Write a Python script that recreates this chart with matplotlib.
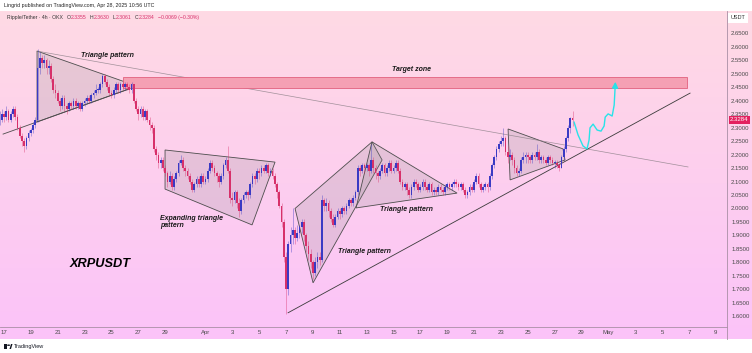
import matplotlib
matplotlib.use("Agg")
import matplotlib.pyplot as plt
import numpy as np
from matplotlib.patches import Polygon, Rectangle, Circle

# ---------------- data (4h candles, XRP/USDT, Mar 16 16:00 -> Apr 28 08:00 UTC) -------------
first_open = 2.32
closes = [
    2.33, 2.35,                                  # Mar 16 (16h, 20h)
    2.34, 2.36, 2.33, 2.35, 2.37, 2.34,          # Mar 17
    2.30, 2.27, 2.25, 2.23, 2.26, 2.28,          # Mar 18
    2.29, 2.31, 2.33, 2.52, 2.56, 2.54,          # Mar 19
    2.55, 2.52, 2.53, 2.48, 2.44, 2.43,          # Mar 20
    2.40, 2.38, 2.41, 2.38, 2.37, 2.39,          # Mar 21
    2.38, 2.40, 2.38, 2.39, 2.37, 2.39,          # Mar 22
    2.40, 2.41, 2.40, 2.42, 2.43, 2.44,          # Mar 23
    2.44, 2.46, 2.49, 2.47, 2.45, 2.43,          # Mar 24
    2.42, 2.44, 2.46, 2.44, 2.46, 2.45,          # Mar 25
    2.46, 2.45, 2.44, 2.46, 2.40, 2.37,          # Mar 26
    2.35, 2.37, 2.34, 2.36, 2.33, 2.31,          # Mar 27
    2.30, 2.22, 2.20, 2.17, 2.18, 2.15,          # Mar 28
    2.13, 2.10, 2.12, 2.08, 2.11, 2.13,          # Mar 29
    2.17, 2.18, 2.15, 2.14, 2.12, 2.10,          # Mar 30
    2.07, 2.09, 2.11, 2.09, 2.12, 2.10,          # Mar 31
    2.11, 2.14, 2.17, 2.15, 2.13, 2.12,          # Apr 1
    2.10, 2.12, 2.16, 2.18, 2.14, 2.04,          # Apr 2
    2.03, 2.06, 2.02, 1.99, 2.03, 2.05,          # Apr 3
    2.06, 2.05, 2.09, 2.12, 2.11, 2.14,          # Apr 4
    2.13, 2.15, 2.14, 2.16, 2.13, 2.14,          # Apr 5
    2.12, 2.09, 2.06, 2.01, 1.95, 1.82,          # Apr 6
    1.70, 1.87, 1.90, 1.92, 1.89, 1.91,          # Apr 7
    1.93, 1.95, 1.90, 1.86, 1.83, 1.80,          # Apr 8
    1.76, 1.80, 1.82, 1.81, 2.03, 2.01,          # Apr 9
    2.02, 1.99, 1.96, 1.94, 1.97, 1.99,          # Apr 10
    1.98, 2.00, 1.99, 2.01, 2.03, 2.02,          # Apr 11
    2.04, 2.06, 2.15, 2.14, 2.16, 2.15,          # Apr 12
    2.16, 2.14, 2.18, 2.15, 2.13, 2.12,          # Apr 13
    2.14, 2.16, 2.13, 2.15, 2.17, 2.14,          # Apr 14
    2.15, 2.17, 2.14, 2.10, 2.08, 2.09,          # Apr 15
    2.07, 2.05, 2.08, 2.10, 2.09, 2.07,          # Apr 16
    2.08, 2.10, 2.08, 2.07, 2.09, 2.06,          # Apr 17
    2.07, 2.06, 2.08, 2.07, 2.06, 2.08,          # Apr 18
    2.09, 2.08, 2.09, 2.10, 2.09, 2.08,          # Apr 19
    2.09, 2.07, 2.05, 2.06, 2.08, 2.07,          # Apr 20
    2.10, 2.12, 2.09, 2.07, 2.08, 2.09,          # Apr 21
    2.08, 2.12, 2.16, 2.19, 2.22, 2.24,          # Apr 22
    2.25, 2.26, 2.21, 2.19, 2.20, 2.18,          # Apr 23
    2.15, 2.13, 2.14, 2.18, 2.19, 2.20,          # Apr 24
    2.19, 2.18, 2.20, 2.19, 2.21, 2.18,          # Apr 25
    2.19, 2.18, 2.17, 2.19, 2.18, 2.17,          # Apr 26
    2.17, 2.16, 2.15, 2.19, 2.22, 2.26,          # Apr 27
    2.30, 2.3355, 2.3284,                        # Apr 28
]
highs = [
    2.36, 2.37,
    2.36, 2.38, 2.37, 2.36, 2.38, 2.38,
    2.35, 2.31, 2.28, 2.26, 2.27, 2.29,
    2.30, 2.32, 2.34, 2.59, 2.58, 2.57,
    2.57, 2.56, 2.55, 2.54, 2.49, 2.46,
    2.44, 2.41, 2.42, 2.42, 2.39, 2.40,
    2.40, 2.41, 2.41, 2.40, 2.40, 2.40,
    2.41, 2.42, 2.42, 2.43, 2.44, 2.46,
    2.45, 2.47, 2.50, 2.50, 2.48, 2.46,
    2.44, 2.45, 2.47, 2.47, 2.47, 2.47,
    2.47, 2.47, 2.46, 2.47, 2.46, 2.41,
    2.38, 2.38, 2.38, 2.37, 2.37, 2.34,
    2.32, 2.31, 2.23, 2.21, 2.19, 2.19,
    2.16, 2.14, 2.14, 2.13, 2.12, 2.14,
    2.18, 2.20, 2.19, 2.16, 2.15, 2.13,
    2.11, 2.10, 2.12, 2.12, 2.13, 2.13,
    2.12, 2.15, 2.18, 2.18, 2.16, 2.14,
    2.13, 2.13, 2.17, 2.19, 2.23, 2.15,
    2.06, 2.07, 2.07, 2.04, 2.04, 2.06,
    2.07, 2.07, 2.10, 2.13, 2.13, 2.15,
    2.15, 2.16, 2.16, 2.17, 2.17, 2.15,
    2.15, 2.13, 2.10, 2.07, 2.02, 1.96,
    1.84, 1.88, 1.93, 2.00, 1.93, 1.94,
    1.94, 1.96, 1.96, 1.91, 1.88, 1.85,
    1.81, 1.82, 1.84, 1.84, 2.05, 2.04,
    2.04, 2.03, 2.00, 1.98, 1.98, 2.00,
    2.00, 2.01, 2.01, 2.02, 2.04, 2.04,
    2.05, 2.07, 2.16, 2.16, 2.17, 2.17,
    2.17, 2.17, 2.24, 2.19, 2.16, 2.14,
    2.15, 2.17, 2.17, 2.16, 2.18, 2.18,
    2.16, 2.18, 2.18, 2.15, 2.11, 2.10,
    2.10, 2.08, 2.09, 2.11, 2.11, 2.10,
    2.09, 2.11, 2.11, 2.09, 2.10, 2.10,
    2.08, 2.08, 2.09, 2.09, 2.08, 2.09,
    2.10, 2.10, 2.10, 2.11, 2.11, 2.10,
    2.10, 2.10, 2.08, 2.07, 2.09, 2.09,
    2.11, 2.13, 2.13, 2.10, 2.09, 2.10,
    2.10, 2.13, 2.17, 2.20, 2.23, 2.25,
    2.27, 2.30, 2.27, 2.23, 2.22, 2.21,
    2.19, 2.16, 2.15, 2.19, 2.21, 2.21,
    2.21, 2.20, 2.21, 2.21, 2.24, 2.22,
    2.20, 2.20, 2.19, 2.20, 2.20, 2.19,
    2.18, 2.18, 2.17, 2.20, 2.23, 2.27,
    2.31, 2.34, 2.363,
]
lows = [
    2.31, 2.32,
    2.32, 2.33, 2.32, 2.32, 2.34, 2.33,
    2.29, 2.26, 2.23, 2.21, 2.22, 2.25,
    2.27, 2.28, 2.30, 2.32, 2.50, 2.52,
    2.52, 2.50, 2.50, 2.47, 2.43, 2.41,
    2.39, 2.36, 2.37, 2.36, 2.35, 2.36,
    2.37, 2.37, 2.37, 2.37, 2.36, 2.36,
    2.38, 2.39, 2.39, 2.39, 2.41, 2.42,
    2.43, 2.43, 2.45, 2.46, 2.44, 2.42,
    2.41, 2.41, 2.43, 2.43, 2.43, 2.44,
    2.44, 2.44, 2.43, 2.43, 2.39, 2.36,
    2.33, 2.34, 2.33, 2.33, 2.32, 2.29,
    2.28, 2.21, 2.18, 2.15, 2.15, 2.14,
    2.12, 2.08, 2.09, 2.07, 2.07, 2.10,
    2.12, 2.16, 2.14, 2.12, 2.11, 2.09,
    2.06, 2.06, 2.08, 2.08, 2.08, 2.09,
    2.09, 2.10, 2.13, 2.14, 2.12, 2.10,
    2.08, 2.09, 2.11, 2.15, 2.13, 2.02,
    2.01, 2.02, 2.00, 1.97, 1.98, 2.02,
    2.04, 2.03, 2.04, 2.08, 2.09, 2.10,
    2.11, 2.12, 2.13, 2.13, 2.12, 2.12,
    2.11, 2.08, 2.04, 2.00, 1.93, 1.80,
    1.61, 1.68, 1.84, 1.87, 1.87, 1.88,
    1.89, 1.91, 1.88, 1.84, 1.81, 1.78,
    1.74, 1.75, 1.78, 1.79, 1.80, 1.99,
    1.99, 1.97, 1.95, 1.93, 1.93, 1.96,
    1.96, 1.97, 1.98, 1.98, 2.00, 2.01,
    2.01, 2.03, 2.05, 2.12, 2.13, 2.13,
    2.14, 2.12, 2.13, 2.13, 2.11, 2.10,
    2.11, 2.13, 2.12, 2.12, 2.14, 2.13,
    2.13, 2.14, 2.13, 2.09, 2.07, 2.07,
    2.05, 2.04, 2.04, 2.07, 2.08, 2.06,
    2.06, 2.07, 2.07, 2.06, 2.06, 2.05,
    2.05, 2.05, 2.05, 2.06, 2.05, 2.05,
    2.07, 2.07, 2.07, 2.08, 2.08, 2.07,
    2.07, 2.06, 2.04, 2.04, 2.05, 2.06,
    2.06, 2.09, 2.08, 2.06, 2.06, 2.07,
    2.06, 2.07, 2.11, 2.15, 2.18, 2.21,
    2.23, 2.23, 2.20, 2.17, 2.18, 2.16,
    2.13, 2.12, 2.12, 2.13, 2.17, 2.17,
    2.17, 2.17, 2.17, 2.18, 2.18, 2.17,
    2.17, 2.17, 2.16, 2.16, 2.17, 2.16,
    2.15, 2.15, 2.14, 2.15, 2.18, 2.21,
    2.25, 2.28, 2.3061,
]
first_candle_day = -1.0 / 3.0          # Mar 16 16:00 in days since Mar 17 00:00
candle_step = 1.0 / 6.0                # 4 hours

x_tick_days = [0, 2, 4, 6, 8, 10, 12, 15, 17, 19, 21, 23, 25, 27, 29, 31, 33,
               35, 37, 39, 41, 43, 45, 47, 49, 51, 53]
x_tick_labels = ["17", "19", "21", "23", "25", "27", "29", "Apr", "3", "5", "7",
                 "9", "11", "13", "15", "17", "19", "21", "23", "25", "27", "29",
                 "May", "3", "5", "7", "9"]
y_ticks = [1.60, 1.65, 1.70, 1.75, 1.80, 1.85, 1.90, 1.95, 2.00, 2.05, 2.10,
           2.15, 2.20, 2.25, 2.30, 2.35, 2.40, 2.45, 2.50, 2.55, 2.60, 2.65]
last_price = 2.3284
legend_title = "Ripple/Tether · 4h · OKX"
legend_ohlc = [("O", "2.3355"), ("H", "2.3630"), ("L", "2.3061"), ("C", "2.3284")]
legend_change = "\u22120.0069 (\u22120.30%)"

# drawings (day, price)
tri1_poly = [(2.46, 2.584), (9.90, 2.454), (2.46, 2.321)]
tri1_lower_ext = [(-0.07, 2.276), (9.90, 2.454)]
long_line = [(2.46, 2.584), (50.93, 2.154)]
target_zone = (8.86, 50.86, 2.446, 2.488)
exp_tri_poly = [(11.99, 2.217), (20.18, 2.172), (18.47, 1.939), (11.99, 2.072)]
wedge_poly = [(21.67, 2.000), (27.40, 2.247), (28.15, 2.180), (23.01, 1.724)]
tri2_poly = [(27.40, 2.247), (33.73, 2.057), (26.21, 2.002)]
tri3_poly = [(37.53, 2.295), (41.62, 2.221), (41.77, 2.180), (37.68, 2.106)]
trend_line = [(21.15, 1.613), (51.08, 2.428)]
proj_path = [(42.44, 2.321), (42.74, 2.273), (43.11, 2.232), (43.41, 2.221),
             (43.56, 2.254), (43.63, 2.299), (43.86, 2.313), (44.16, 2.291),
             (44.45, 2.287), (44.68, 2.306), (44.76, 2.339), (44.98, 2.351),
             (45.28, 2.343), (45.43, 2.384), (45.50, 2.450)]
proj_arrow_tip = (45.52, 2.470)

# ---------------- figure ----------------
W, H = 752, 353
fig = plt.figure(figsize=(W / 100, H / 100), dpi=100)
fig.patch.set_facecolor("white")

def fx(px):
    return px / W

def fy(py):
    return 1 - py / H

# gradient background (chart pane incl. axes strips)
bg = fig.add_axes([0, fy(339), 1, fy(11) - fy(339)])
grad = np.linspace(0, 1, 256).reshape(-1, 1)
top_c = np.array([1.0, 0.855, 0.895])
bot_c = np.array([0.985, 0.765, 0.975])
img = top_c[None, None, :] * (1 - grad[:, :, None]) + bot_c[None, None, :] * grad[:, :, None]
bg.imshow(img, aspect="auto", extent=[0, 1, 0, 1])
bg.set_axis_off()

ax = fig.add_axes([0, fy(327), fx(727), fy(11) - fy(327)])
ax.set_facecolor("none")
ax.set_xlim(-0.298, 53.83)
ax.set_ylim(1.5602, 2.7327)
for s in ax.spines.values():
    s.set_visible(False)

# separators
fig.add_artist(plt.Line2D([0, fx(727)], [fy(327), fy(327)], color="#a98fa5", lw=0.6))
fig.add_artist(plt.Line2D([fx(727), fx(727)], [fy(339), fy(11)], color="#a98fa5", lw=0.6))

# ---------------- drawings under candles ----------------
fill_kw = dict(facecolor=(0.55, 0.55, 0.55, 0.20), edgecolor="#4d4d4d", lw=0.6, zorder=2)
for poly in (tri1_poly, exp_tri_poly, wedge_poly, tri2_poly, tri3_poly):
    ax.add_patch(Polygon(poly, closed=True, **fill_kw))
ax.plot(*zip(*tri1_lower_ext), color="#4d4d4d", lw=0.6, zorder=2)
ax.plot(*zip(*long_line), color="#8a7f86", lw=0.5, alpha=0.8, zorder=2)
tz = target_zone
ax.add_patch(Rectangle((tz[0], tz[2]), tz[1] - tz[0], tz[3] - tz[2],
                       facecolor="#f5a0b4", edgecolor="#e2617f", lw=0.6, zorder=2))
ax.plot(*zip(*trend_line), color="#3a3a3a", lw=0.6, zorder=2)

# ---------------- candles ----------------
up_c = "#3a3ac4"
dn_c = "#d7306a"
opens = [first_open] + closes[:-1]
times = [first_candle_day + i * candle_step for i in range(len(closes))]
for t, o, h, l, c in zip(times, opens, highs, lows, closes):
    col = up_c if c >= o else dn_c
    ax.vlines(t, l, h, color=col, lw=0.6, alpha=0.45, zorder=3)
    bot = min(o, c)
    hgt = max(abs(c - o), 0.003)
    ax.bar(t, hgt, bottom=bot, width=0.13, color=col, lw=0, zorder=4)

# projection path
ax.plot(*zip(*proj_path), color="#27e3e8", lw=1.0, zorder=5, solid_capstyle="round")
ax.annotate("", xy=proj_arrow_tip, xytext=proj_path[-1],
            arrowprops=dict(arrowstyle="-|>,head_width=0.18,head_length=0.35",
                            color="#27e3e8", lw=1.0), zorder=5)

# ---------------- annotation texts ----------------
ann_kw = dict(fontsize=5.0, fontweight="bold", fontstyle="italic", color="#1a1a1a",
              family=["Liberation Sans", "DejaVu Sans"], zorder=6)
ax.text(7.67, 2.566, "Triangle pattern", ha="center", va="center", **ann_kw)
ax.text(30.31, 2.517, "Target zone", ha="center", va="center", **ann_kw)
ax.text(11.62, 1.950, "Expanding triangle\npattern", ha="left", va="center",
        linespacing=1.0, **ann_kw)
ax.text(28.0, 1.998, "Triangle pattern", ha="left", va="center", **ann_kw)
ax.text(24.87, 1.839, "Triangle pattern", ha="left", va="center", **ann_kw)
ax.text(4.91, 1.794, "XRPUSDT", ha="left", va="center", fontsize=9.2,
        fontweight="bold", fontstyle="italic", color="#000000",
        family=["Liberation Sans", "DejaVu Sans"], zorder=6)

# ---------------- axes ticks ----------------
tick_font = ["Liberation Sans", "DejaVu Sans"]
ax.set_xticks(x_tick_days)
ax.set_xticklabels(x_tick_labels, fontsize=4.3, color="#4a4a4a", family=tick_font)
ax.tick_params(axis="x", length=0, pad=2.4)
ax.yaxis.tick_right()
ax.set_yticks(y_ticks)
ax.set_yticklabels([f"{v:.4f}" for v in y_ticks], fontsize=4.3, color="#4a4a4a",
                   family=tick_font)
ax.tick_params(axis="y", length=0, pad=3.0)

# current price tag
ax.annotate(f"{last_price:.4f}", xy=(1.0, last_price), xycoords=("axes fraction", "data"),
            xytext=(2.2, 0), textcoords="offset points", ha="left", va="center",
            fontsize=4.3, color="white", family=tick_font, annotation_clip=False,
            bbox=dict(boxstyle="square,pad=0.25", fc="#e3215f", ec="none"), zorder=7)

# USDT box
fig.text(fx(738), fy(17.5), "USDT", ha="center", va="center", fontsize=4.0,
         color="#333333", family=tick_font,
         bbox=dict(boxstyle="square,pad=0.45", fc="white", ec="none"))

# ---------------- header texts ----------------
hfont = ["Liberation Sans", "DejaVu Sans"]
fig.text(fx(4), fy(5.5), "Lingrid published on TradingView.com, Apr 28, 2025 10:56 UTC",
         ha="left", va="center", fontsize=3.8, color="#222222", family=hfont)

renderer = fig.canvas.get_renderer()
leg_y = fy(17.5)

def put(px, s, col, gap=0.0):
    t = fig.text(fx(px), leg_y, s, ha="left", va="center", fontsize=3.7, color=col,
                 family=hfont)
    bb = t.get_window_extent(renderer=renderer)
    return bb.x1 + gap

cur = put(7, legend_title, "#333333", gap=3.5)
for lab, val in legend_ohlc:
    cur = put(cur, lab, "#333333", gap=0.6)
    cur = put(cur, val, dn_c, gap=3.0)
put(cur, legend_change, dn_c)

# TradingView footer
fig.add_artist(Rectangle((fx(4), fy(349)), fx(3.2), fy(344) - fy(349),
                         transform=fig.transFigure, facecolor="#131722", edgecolor="none"))
fig.add_artist(Circle((fx(8.6), fy(345.2)), 0.0021, transform=fig.transFigure,
                      facecolor="#131722", edgecolor="none"))
fig.add_artist(Polygon([(fx(9.5), fy(349)), (fx(11.0), fy(344)), (fx(12.5), fy(344)),
                        (fx(11.0), fy(349))], closed=True, transform=fig.transFigure,
                       facecolor="#131722", edgecolor="none"))
fig.text(fx(14), fy(346.5), "TradingView", ha="left", va="center", fontsize=4.0,
         color="#131722", family=hfont)

fig.savefig("out.png", dpi=100)
